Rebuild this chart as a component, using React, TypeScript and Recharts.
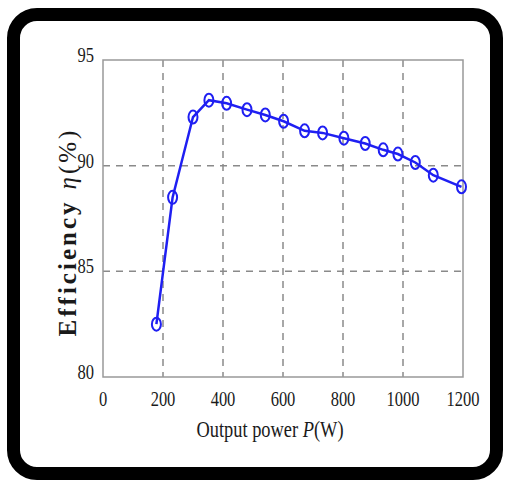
import {
  LineChart,
  Line,
  XAxis,
  YAxis,
  CartesianGrid,
  ReferenceArea,
} from "recharts";

const POWER = [178, 232, 300, 353, 412, 480, 541, 602, 672, 732, 803, 874, 934, 983, 1041, 1101, 1195];
const EFFICIENCY = [82.5, 88.5, 92.3, 93.1, 92.95, 92.65, 92.4, 92.1, 91.65, 91.55, 91.3, 91.05, 90.75, 90.55, 90.15, 89.55, 89.0];
const X_TICKS = [0, 200, 400, 600, 800, 1000, 1200];
const Y_TICKS = [80, 85, 90, 95];

const data = POWER.map((p, i) => ({ p, eta: EFFICIENCY[i] }));

const BLUE = "#1f1ff2";
const SERIF = "'Liberation Serif', 'Times New Roman', serif";

const XTick = ({ x, y, payload }: any) => (
  <text
    transform={`translate(${x},${y + 21}) scale(0.75,1)`}
    textAnchor="middle"
    fontFamily={SERIF}
    fontSize={22}
    fill="#1a1a1a"
  >
    {payload.value}
  </text>
);

const YTick = ({ x, y, payload }: any) => (
  <text
    transform={`translate(${x - 1},${y + 2}) scale(0.75,1)`}
    textAnchor="end"
    fontFamily={SERIF}
    fontSize={22}
    fill="#1a1a1a"
  >
    {payload.value}
  </text>
);

const Ring = ({ cx, cy }: any) => (
  <ellipse cx={cx} cy={cy} rx={4.5} ry={6.5} fill="none" stroke={BLUE} strokeWidth={2} />
);

export default function App() {
  return (
    <div style={{ position: "absolute", left: 0, top: 0, width: 507, height: 481, background: "#fff" }}>
      <div
        style={{
          position: "absolute",
          left: 7,
          top: 8,
          width: 496,
          height: 472,
          boxSizing: "border-box",
          border: "13px solid #000",
          borderRadius: 30,
          background: "#fff",
        }}
      />
      <div style={{ position: "absolute", left: 0, top: 0 }}>
        <LineChart width={507} height={481} data={data} margin={{ top: 60, right: 44, bottom: 44, left: 0 }}>
          <CartesianGrid
            stroke="#8a8a8a"
            strokeDasharray="7 6"
            strokeWidth={1.5}
            horizontalValues={[85, 90]}
            verticalValues={[200, 400, 600, 800, 1000]}
          />
          <ReferenceArea x1={0} x2={1200} y1={80} y2={95} fill="none" stroke="#999" strokeWidth={1.5} ifOverflow="visible" />
          <XAxis
            dataKey="p"
            type="number"
            domain={[0, 1200]}
            ticks={X_TICKS}
            height={60}
            axisLine={false}
            tickLine={false}
            tick={<XTick />}
            interval={0}
          />
          <YAxis
            type="number"
            domain={[80, 95]}
            ticks={Y_TICKS}
            width={103}
            axisLine={false}
            tickLine={false}
            tick={<YTick />}
            interval={0}
          />
          <Line
            dataKey="eta"
            stroke={BLUE}
            strokeWidth={2.5}
            type="linear"
            dot={<Ring />}
            isAnimationActive={false}
          />
          <text
            transform="translate(270,437) scale(0.8,1)"
            textAnchor="middle"
            fontFamily={SERIF}
            fontSize={23}
            fill="#1a1a1a"
          >
            Output power <tspan fontStyle="italic">P</tspan>(W)
          </text>
          <text
            transform="translate(76,232) rotate(-90)"
            textAnchor="middle"
            fontFamily={SERIF}
            fontSize={25}
            fill="#1a1a1a"
            letterSpacing={3}
          >
            <tspan fontWeight="bold">Efficiency</tspan>
            <tspan dx={10} fontStyle="italic">η</tspan>
            <tspan>(%)</tspan>
          </text>
        </LineChart>
      </div>
    </div>
  );
}
